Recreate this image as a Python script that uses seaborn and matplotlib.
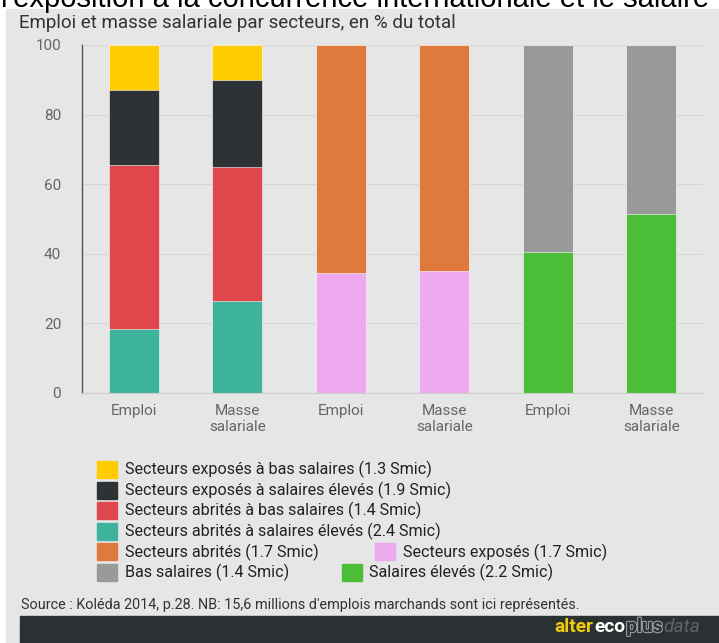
import numpy as np
import pandas as pd
import seaborn as sns
import matplotlib.pyplot as plt
import matplotlib.patheffects as pe
from matplotlib.patches import Rectangle

# --- data -------------------------------------------------------------
bar_ids = ["g1_emploi", "g1_masse", "g2_emploi", "g2_masse", "g3_emploi", "g3_masse"]
bar_labels = ["Emploi", "Masse\nsalariale", "Emploi", "Masse\nsalariale", "Emploi", "Masse\nsalariale"]

# group 1: exposed / sheltered by wage level (bottom to top)
g1_series = [
    "Secteurs abrités à salaires élevés (2.4 Smic)",
    "Secteurs abrités à bas salaires (1.4 Smic)",
    "Secteurs exposés à salaires élevés (1.9 Smic)",
    "Secteurs exposés à bas salaires (1.3 Smic)",
]
g1_emploi = [18.5, 47.0, 21.5, 13.0]
g1_masse = [26.5, 38.5, 25.0, 10.0]

# group 2: exposed vs sheltered
g2_series = ["Secteurs exposés (1.7 Smic)", "Secteurs abrités (1.7 Smic)"]
g2_emploi = [34.5, 65.5]
g2_masse = [35.0, 65.0]

# group 3: low vs high wages
g3_series = ["Salaires élevés (2.2 Smic)", "Bas salaires (1.4 Smic)"]
g3_emploi = [40.5, 59.5]
g3_masse = [51.5, 48.5]

palette = {
    "Secteurs exposés à bas salaires (1.3 Smic)": "#ffcc00",
    "Secteurs exposés à salaires élevés (1.9 Smic)": "#2c3235",
    "Secteurs abrités à bas salaires (1.4 Smic)": "#e0474c",
    "Secteurs abrités à salaires élevés (2.4 Smic)": "#3db39e",
    "Secteurs abrités (1.7 Smic)": "#e07a3c",
    "Secteurs exposés (1.7 Smic)": "#eeaaee",
    "Bas salaires (1.4 Smic)": "#999a9a",
    "Salaires élevés (2.2 Smic)": "#4cbd38",
}

# legend layout: (series, row, swatch x in px, text x in px)
legend_rows = [
    ("Secteurs exposés à bas salaires (1.3 Smic)", 0, 97, 125),
    ("Secteurs exposés à salaires élevés (1.9 Smic)", 1, 97, 125),
    ("Secteurs abrités à bas salaires (1.4 Smic)", 2, 97, 125),
    ("Secteurs abrités à salaires élevés (2.4 Smic)", 3, 97, 125),
    ("Secteurs abrités (1.7 Smic)", 4, 97, 125),
    ("Secteurs exposés (1.7 Smic)", 4, 375, 403),
    ("Bas salaires (1.4 Smic)", 5, 97, 125),
    ("Salaires élevés (2.2 Smic)", 5, 342, 369),
]

# --- long table with stacked extents ------------------------------------
rows = []
for series, pairs in [
    (g1_series, [("g1_emploi", g1_emploi), ("g1_masse", g1_masse)]),
    (g2_series, [("g2_emploi", g2_emploi), ("g2_masse", g2_masse)]),
    (g3_series, [("g3_emploi", g3_emploi), ("g3_masse", g3_masse)]),
]:
    for bar, vals in pairs:
        bottom = 0.0
        for level, (s, v) in enumerate(zip(series, vals)):
            rows.append({"bar": bar, "series": s, "value": v,
                         "bottom": bottom, "top": bottom + v, "level": level})
            bottom += v
df = pd.DataFrame(rows)

# --- figure -------------------------------------------------------------
W, H = 719, 643
BG = "#e6e6e6"
sns.set_theme(style="white")
plt.rcParams["font.family"] = ["Roboto", "DejaVu Sans"]

fig = plt.figure(figsize=(W / 100, H / 100), dpi=100, facecolor="white")


def px(x, y):
    return x / W, 1 - y / H


# grey panel behind everything
fig.patches.append(Rectangle(px(6, H), (W - 6) / W, (H - 9) / H,
                             transform=fig.transFigure, color=BG, zorder=-10))

ax_left, ax_right, ax_top, ax_bottom = 82, 703, 45, 393
ax = fig.add_axes([ax_left / W, 1 - ax_bottom / H,
                   (ax_right - ax_left) / W, (ax_bottom - ax_top) / H])
ax.set_facecolor(BG)

# stacked bars: draw upper layers first so lower segments sit on top
for level in sorted(df["level"].unique(), reverse=True):
    for s in df.loc[df["level"] == level, "series"].unique():
        sub = df[df["series"] == s]
        sns.barplot(data=sub, x="bar", y="top", order=bar_ids,
                    color=palette[s], saturation=1, width=0.48,
                    edgecolor="white", linewidth=0.4, errorbar=None, ax=ax)

ax.set_xlim(-0.5, len(bar_ids) - 0.5)
ax.set_ylim(0, 100)
ax.set_xlabel("")
ax.set_ylabel("")

ax.set_yticks([0, 20, 40, 60, 80, 100])
ax.set_yticklabels(["0", "20", "40", "60", "80", "100"])
ax.yaxis.grid(True, color="#d6d6d6", linewidth=0.8)
ax.set_axisbelow(True)
ax.tick_params(axis="y", length=0, pad=15, labelsize=11, labelcolor="#666666")

ax.set_xticks(range(len(bar_ids)))
ax.set_xticklabels(bar_labels)
ax.set_xticks(np.arange(-0.5, len(bar_ids)), minor=True)
ax.tick_params(axis="x", which="major", length=0, pad=8, labelsize=11,
               labelcolor="#666666")
ax.tick_params(axis="x", which="minor", length=8, width=0.8, color="#cccccc")

for side in ("top", "right"):
    ax.spines[side].set_visible(False)
ax.spines["left"].set_color("#555555")
ax.spines["left"].set_linewidth(1.0)
ax.spines["bottom"].set_color("#cccccc")
ax.spines["bottom"].set_linewidth(0.8)

# --- titles ---------------------------------------------------------------
fig.text(*px(1, 7), "l'exposition à la concurrence internationale et le salaire",
         fontsize=21, color="black", va="baseline", ha="left",
         family=["Liberation Sans", "DejaVu Sans"])
fig.text(*px(19, 23), "Emploi et masse salariale par secteurs, en % du total",
         fontsize=13.5, color="#333333", va="center", ha="left")

# --- legend -----------------------------------------------------------------
for s, row, sx, tx in legend_rows:
    top = 461 + row * 20.6
    fig.patches.append(Rectangle(px(sx, top + 17), 20 / W, 17 / H,
                                 transform=fig.transFigure,
                                 color=palette[s], zorder=5))
    fig.text(*px(tx, top + 8.5), s, fontsize=11.6, color="#222222",
             va="center", ha="left")

# --- source & footer --------------------------------------------------------
fig.text(*px(21, 605), "Source : Koléda 2014, p.28. NB: 15,6 millions d'emplois "
         "marchands sont ici représentés.", fontsize=10.4, color="#333333",
         va="center", ha="left")
fig.patches.append(Rectangle(px(20, H), (W - 20) / W, 27 / H,
                             transform=fig.transFigure, color="#2b3033", zorder=1))

# logo pieces laid out one after the other
renderer = fig.canvas.get_renderer()
logo_x, logo_y = 554, 627
pieces = [
    ("alter", dict(fontweight="bold", color="#f2cc0c")),
    ("eco", dict(fontweight="bold", color="white")),
    ("plus", dict(fontweight="bold", color="#2b3033",
                  path_effects=[pe.withStroke(linewidth=1.6, foreground="#9a9da0")])),
    ("data", dict(fontstyle="italic", color="#5e6366")),
]
for word, kw in pieces:
    t = fig.text(*px(logo_x, logo_y), word, fontsize=13.8, va="center", ha="left",
                 zorder=3, **kw)
    bb = t.get_window_extent(renderer)
    logo_x += bb.width + 1

fig.savefig("out.png", dpi=100, facecolor=fig.get_facecolor())
